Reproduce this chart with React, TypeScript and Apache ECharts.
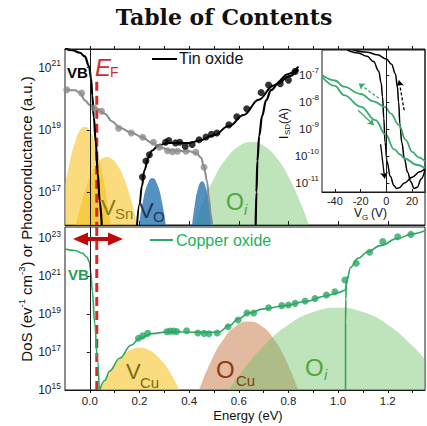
import { useEffect, useRef } from 'react';
import * as echarts from 'echarts';

// Energies in eV, densities / currents stored as log10 values.
const fermiLevel = 0.028;

// ---------- Tin oxide (upper panel) ----------
const tinValenceBand = [[-0.1, 21.62], [-0.07, 21.56], [-0.04, 21.48], [-0.02, 21.36], [-0.003, 21.04], [0.005, 20.65], [0.01, 20.1], [0.016, 19.4], [0.024, 18.6], [0.032, 17.6], [0.04, 16.7], [0.048, 15.94]];
const tinConductionBand = [[0.668, 15.94], [0.671, 17.0], [0.675, 18.0], [0.682, 18.8], [0.694, 19.45], [0.71, 19.95], [0.73, 20.28], [0.76, 20.5], [0.8, 20.72], [0.84, 20.95]];
const tinFit = [[0.19, 15.94], [0.2, 16.6], [0.21, 17.2], [0.22, 17.7], [0.235, 18.1], [0.25, 18.33], [0.28, 18.52], [0.32, 18.58], [0.4, 18.58], [0.44, 18.65], [0.5, 18.83], [0.56, 19.12], [0.62, 19.48], [0.68, 19.97], [0.74, 20.43], [0.8, 20.8], [0.84, 21.03]];
const tinPoints = [[0.212, 17.48], [0.226, 18.0], [0.24, 18.2], [0.305, 18.6], [0.318, 18.66], [0.345, 18.58], [0.362, 18.6], [0.384, 18.47], [0.412, 18.53], [0.44, 18.68], [0.468, 18.77], [0.49, 18.86], [0.512, 18.9], [0.56, 19.16], [0.592, 19.42], [0.632, 19.68], [0.69, 20.2], [0.72, 20.44], [0.767, 20.48], [0.8, 20.6], [0.827, 20.88]];
const photoFit = [[-0.1, 20.3], [-0.06, 20.27], [-0.04, 20.2], [-0.02, 19.95], [0.0, 19.8], [0.03, 19.68], [0.06, 19.52], [0.09, 19.27], [0.12, 19.07], [0.17, 18.9], [0.21, 18.77], [0.25, 18.58], [0.28, 18.45], [0.32, 18.35], [0.4, 18.31], [0.43, 18.25], [0.448, 18.1], [0.46, 17.8], [0.472, 17.35], [0.48, 16.8], [0.487, 16.3], [0.492, 15.94]];
const photoPoints = [[-0.093, 20.29], [-0.033, 20.18], [0.017, 19.7], [0.047, 19.6], [0.116, 19.05], [0.167, 18.9], [0.213, 18.76], [0.256, 18.6], [0.28, 18.44], [0.313, 18.33], [0.333, 18.3], [0.353, 18.31], [0.387, 18.31], [0.427, 18.28], [0.46, 17.8]];
const tinVSnNarrow = [[-0.1, 17.2], [-0.08, 18.0], [-0.06, 18.6], [-0.04, 18.98], [-0.02, 19.1], [0.0, 18.98], [0.02, 18.6], [0.04, 18.0], [0.06, 17.2], [0.075, 16.4], [0.085, 15.94]];
const tinVSnWide = [[-0.056, 15.94], [-0.032, 16.7], [-0.012, 17.22], [0.008, 17.62], [0.028, 17.9], [0.048, 18.07], [0.068, 18.13], [0.088, 18.07], [0.108, 17.9], [0.128, 17.62], [0.148, 17.22], [0.168, 16.7], [0.192, 15.94]];
const tinVOLow = [[0.198, 15.94], [0.212, 16.62], [0.232, 17.24], [0.252, 17.45], [0.272, 17.24], [0.292, 16.62], [0.306, 15.94]];
const tinVOHigh = [[0.412, 15.94], [0.422, 16.55], [0.437, 17.15], [0.452, 17.35], [0.467, 17.15], [0.482, 16.55], [0.492, 15.94]];
const tinOi = [[0.422, 15.94], [0.452, 16.59], [0.502, 17.47], [0.552, 18.1], [0.602, 18.48], [0.652, 18.61], [0.702, 18.48], [0.752, 18.1], [0.802, 17.47], [0.852, 16.59], [0.882, 15.94]];
const fermiUpper = [[fermiLevel, 20.55], [fermiLevel, 15.94]];

// ---------- Copper oxide (lower panel) ----------
const copperValenceBand = [[-0.1, 22.42], [-0.06, 22.34], [-0.03, 22.2], [-0.012, 22.0], [-0.002, 21.75], [0.004, 21.2], [0.01, 20.2], [0.02, 18.5], [0.03, 16.7], [0.038, 15.0]];
const copperFit = [[0.04, 15.0], [0.06, 15.5], [0.08, 16.0], [0.12, 16.67], [0.167, 17.37], [0.2, 17.72], [0.25, 17.97], [0.32, 18.07], [0.44, 18.04], [0.52, 18.04], [0.56, 18.38], [0.6, 18.75], [0.64, 19.05], [0.7, 19.27], [0.78, 19.42], [0.87, 19.66], [0.95, 19.95], [1.0, 20.12], [1.028, 20.25], [1.036, 20.8], [1.05, 21.45], [1.08, 21.93], [1.12, 22.28], [1.17, 22.6], [1.24, 22.98], [1.3, 23.22], [1.35, 23.38]];
const copperConductionBand = [[1.03, 15.0], [1.03, 18.5], [1.031, 19.8], [1.033, 20.5], [1.038, 21.0]];
const copperPoints = [[0.196, 17.72], [0.213, 17.85], [0.233, 17.98], [0.31, 18.07], [0.323, 18.1], [0.337, 18.1], [0.35, 18.08], [0.39, 18.12], [0.435, 18.0], [0.46, 17.98], [0.48, 17.96], [0.513, 18.0], [0.557, 18.33], [0.597, 18.68], [0.633, 19.05], [0.66, 19.05], [0.72, 19.33], [0.773, 19.44], [0.8, 19.47], [0.827, 19.56], [0.867, 19.68], [0.907, 19.82], [0.953, 20.0], [0.987, 20.17], [1.027, 20.79], [1.073, 21.67], [1.127, 22.25], [1.18, 22.81], [1.24, 23.07], [1.293, 23.19]];
const cuVCu = [[0.04, 15], [0.08, 16.0], [0.12, 16.67], [0.16, 17.09], [0.2, 17.23], [0.24, 17.09], [0.28, 16.67], [0.32, 16.0], [0.36, 15]];
const cuOCu = [[0.44, 15], [0.49, 16.57], [0.54, 17.7], [0.59, 18.38], [0.64, 18.6], [0.69, 18.38], [0.74, 17.7], [0.79, 16.57], [0.84, 15]];
const cuOi = [[0.56, 15], [0.6, 15.75], [0.7, 17.31], [0.8, 18.43], [0.9, 19.1], [1.0, 19.33], [1.1, 19.1], [1.2, 18.43], [1.3, 17.31], [1.35, 16.6]];
const fermiLower = [[fermiLevel, 23.58], [fermiLevel, 15.0]];

// ---------- Inset: transfer curves, V_G (V) vs log10 I_SD (A) ----------
const tinSweepA = [[-30.5, -6.07], [-22, -6.18], [-15, -6.3], [-10, -6.5], [-6, -6.85], [-4, -7.3], [-3, -7.8], [-2, -8.6], [-1, -9.5], [0.5, -10.2], [3, -10.75], [6, -11.1], [8, -11.2], [10, -11.17], [14, -11.0], [20, -10.78], [26, -10.58], [30, -10.45]];
const tinSweepB = [[-26, -6.07], [-15, -6.15], [-7, -6.25], [0, -6.4], [4, -6.6], [7, -6.95], [8.5, -7.4], [9.5, -8.0], [10.5, -8.8], [12, -9.5], [14, -10.1], [16.5, -10.6], [19, -10.95], [21.5, -11.2], [24, -11.15], [27, -10.85], [30, -10.5]];
const copperSweepBack = [[-50, -7.0], [-40, -7.2], [-33, -7.43], [-20, -7.7], [-10, -7.97], [-0.6, -8.19], [3.3, -8.42], [9.8, -8.85], [15, -9.4], [20, -9.84], [25, -10.05], [30, -10.2]];
const copperSweepFwd = [[-50, -7.06], [-40, -7.4], [-33, -7.74], [-20, -8.17], [-8.4, -8.67], [-0.6, -9.2], [6, -9.75], [11, -9.95], [14, -10.09], [24, -10.33], [30, -10.45]];
const tinArrowFwd = [[-4.5, -9.56], [-1.3, -10.83]];
const tinArrowBack = [[13.8, -8.3], [9.8, -7.19]];
const copperArrowBack = [[-5.8, -7.86], [-21.5, -7.31]];
const copperArrowFwd = [[-22, -8.3], [-9.8, -8.85]];

// ---------- Ticks ----------
const energyMajor = [0, 0.2, 0.4, 0.6, 0.8, 1.0, 1.2];
const energyAll = [0, 0.1, 0.2, 0.3, 0.4, 0.5, 0.6, 0.7, 0.8, 0.9, 1.0, 1.1, 1.2, 1.3];
const tinDecades = [17, 19, 21];
const copperDecades = [15, 17, 19, 21, 23];
const currentDecades = [-11, -10, -9, -8, -7];
const gateTicks = [-40, -20, 0, 20];

const FONT = "'Liberation Sans', Arial, Helvetica, sans-serif";
const INK = '#1a1a1a';
const YELLOW = 'rgba(246,190,20,0.55)';
const BLUE = 'rgba(40,118,178,0.8)';
const GREEN_FILL = 'rgba(112,192,104,0.45)';
const TAN = 'rgba(196,118,66,0.5)';
const CU_GREEN = '#2ba862';
const RED = '#d42a2a';

// power-of-ten tick labels; the exponent is lifted with bottom padding
const powLabel = (v: number) => `{b|10}{s|${Math.round(v)}}`;
const powRich = (size: number, sup: number) => ({
  b: { fontSize: size, fontFamily: FONT, color: '#222' },
  s: { fontSize: sup, fontFamily: FONT, color: '#222', padding: [0, 0, 9, 0] },
});

const fill = (data: number[][], color: string, xi: number, yi: number) => ({
  type: 'line', xAxisIndex: xi, yAxisIndex: yi, data, smooth: 0.5, symbol: 'none', silent: true,
  lineStyle: { width: 0 }, areaStyle: { color, opacity: 1, origin: 'start' }, z: 1,
});
const curve = (data: number[][], color: string, width: number, xi: number, yi: number) => ({
  type: 'line', xAxisIndex: xi, yAxisIndex: yi, data, smooth: 0.4, smoothMonotone: 'x', symbol: 'none',
  lineStyle: { color, width }, z: 3,
});
const dots = (data: number[][], color: string, xi: number, yi: number) => ({
  type: 'scatter', xAxisIndex: xi, yAxisIndex: yi, data, symbolSize: 7, itemStyle: { color }, z: 4,
});
const arrow = (coords: number[][], color: string, dashed: boolean) => ({
  type: 'lines', coordinateSystem: 'cartesian2d', xAxisIndex: 3, yAxisIndex: 2,
  symbol: ['none', 'arrow'], symbolSize: 6, silent: true, z: 5,
  lineStyle: { color, width: 1.3, type: dashed ? [3, 2] : 'solid', opacity: 1 },
  data: [{ coords }],
});

const txt = (x: number, y: number, text: string, size: number, color: string, extra: any = {}) => ({
  type: 'text', x, y, z: 60, silent: true,
  style: { text, fontSize: size, fill: color, fontFamily: FONT, verticalAlign: 'middle', align: 'left', ...extra },
});
const subscripted = (x: number, y: number, main: string, sub: string, size: number, subSize: number,
  color: string, dx: number, dy: number, mainExtra: any = {}, subExtra: any = {}) => ({
  type: 'group', x, y, z: 60, silent: true,
  children: [txt(0, 0, main, size, color, mainExtra), txt(dx, dy, sub, subSize, color, subExtra)],
});

const option: any = {
  animation: false,
  textStyle: { fontFamily: FONT },
  grid: [
    { left: 65, top: 49, width: 360, height: 176, show: true, borderColor: INK, borderWidth: 1 },
    { left: 65, top: 227, width: 360, height: 163, show: true, borderColor: INK, borderWidth: 1 },
    { left: 322, top: 50, width: 103, height: 142, show: true, borderColor: INK, borderWidth: 1 },
  ],
  xAxis: [
    {
      gridIndex: 0, type: 'value', min: -0.1, max: 1.35, position: 'bottom', z: 5,
      axisLine: { show: true, lineStyle: { color: INK } },
      axisTick: { show: true, inside: true, length: 4, customValues: energyMajor, lineStyle: { color: INK } },
      axisLabel: { show: false }, splitLine: { show: false },
    },
    {
      gridIndex: 0, type: 'value', min: -0.1, max: 1.35, position: 'top', z: 5,
      axisLine: { show: true, lineStyle: { color: INK } },
      axisTick: { show: true, length: 3, customValues: energyAll, lineStyle: { color: INK } },
      axisLabel: { show: false }, splitLine: { show: false },
    },
    {
      gridIndex: 1, type: 'value', min: -0.1, max: 1.35, position: 'bottom', z: 5,
      axisLine: { show: true, lineStyle: { color: INK } },
      axisTick: { show: true, length: 3, customValues: energyAll, lineStyle: { color: INK } },
      axisLabel: { customValues: energyMajor, formatter: (v: number) => v.toFixed(1), fontSize: 11.5, color: '#222', margin: 5 },
      splitLine: { show: false },
    },
    {
      gridIndex: 2, type: 'value', min: -50, max: 30, z: 5,
      axisLine: { show: true, lineStyle: { color: INK } },
      axisTick: { show: true, inside: true, length: 3, customValues: gateTicks, lineStyle: { color: INK } },
      axisLabel: { customValues: gateTicks, fontSize: 11, color: '#222', margin: 3 },
      splitLine: { show: false },
    },
  ],
  yAxis: [
    {
      gridIndex: 0, type: 'value', min: 15.94, max: 21.6, z: 5,
      axisLine: { show: true, lineStyle: { color: INK } },
      axisTick: { show: true, length: 3, customValues: tinDecades, lineStyle: { color: INK } },
      axisLabel: { customValues: tinDecades, formatter: powLabel, rich: powRich(12, 8.5), margin: 4 },
      splitLine: { show: false },
    },
    {
      gridIndex: 1, type: 'value', min: 15, max: 23.58, z: 5,
      axisLine: { show: true, lineStyle: { color: INK } },
      axisTick: { show: true, length: 3, customValues: copperDecades, lineStyle: { color: INK } },
      axisLabel: { customValues: copperDecades, formatter: powLabel, rich: powRich(12, 8.5), margin: 4 },
      splitLine: { show: false },
    },
    {
      gridIndex: 2, type: 'value', min: -11.33, max: -6.07, z: 5,
      axisLine: { show: true, lineStyle: { color: INK } },
      axisTick: { show: true, inside: true, length: 3, customValues: currentDecades, lineStyle: { color: INK } },
      axisLabel: { customValues: currentDecades, formatter: powLabel, rich: powRich(11.5, 8), margin: 3 },
      splitLine: { show: false },
    },
  ],
  series: [
    // upper panel: defect bands
    fill(tinVSnNarrow, YELLOW, 0, 0),
    fill(tinVSnWide, YELLOW, 0, 0),
    fill(tinOi, GREEN_FILL, 0, 0),
    fill(tinVOLow, BLUE, 0, 0),
    fill(tinVOHigh, BLUE, 0, 0),
    { type: 'line', xAxisIndex: 0, yAxisIndex: 0, data: fermiUpper, symbol: 'none', silent: true, z: 2, lineStyle: { color: RED, width: 3, type: [9, 5] } },
    curve(photoFit, '#8c8c8c', 2, 0, 0),
    dots(photoPoints, '#8c8c8c', 0, 0),
    curve(tinFit, '#000', 2, 0, 0),
    dots(tinPoints, '#000', 0, 0),
    curve(tinValenceBand, '#000', 2.2, 0, 0),
    curve(tinConductionBand, '#000', 2.2, 0, 0),
    // lower panel
    fill(cuVCu, YELLOW, 2, 1),
    fill(cuOCu, TAN, 2, 1),
    fill(cuOi, GREEN_FILL, 2, 1),
    { type: 'line', xAxisIndex: 2, yAxisIndex: 1, data: fermiLower, symbol: 'none', silent: true, z: 2, lineStyle: { color: RED, width: 3, type: [9, 5] } },
    curve(copperValenceBand, CU_GREEN, 1.6, 2, 1),
    curve(copperFit, CU_GREEN, 1.6, 2, 1),
    curve(copperConductionBand, CU_GREEN, 1.6, 2, 1),
    dots(copperPoints, CU_GREEN, 2, 1),
    // inset
    curve(tinSweepA, '#000', 1.5, 3, 2),
    curve(tinSweepB, '#000', 1.5, 3, 2),
    curve(copperSweepBack, '#3aaa6e', 1.8, 3, 2),
    curve(copperSweepFwd, '#3aaa6e', 1.8, 3, 2),
    arrow(tinArrowFwd, '#000', false),
    arrow(tinArrowBack, '#000', true),
    arrow(copperArrowBack, '#3aaa6e', true),
    arrow(copperArrowFwd, '#3aaa6e', false),
  ],
  graphic: [
    txt(224, 17, 'Table of Contents', 22, '#111', { fontFamily: "'DejaVu Serif', serif", fontWeight: 'bold', align: 'center' }),
    // legends
    { type: 'line', z: 60, silent: true, shape: { x1: 152, y1: 59, x2: 177, y2: 59 }, style: { stroke: '#000', lineWidth: 2 } },
    txt(179, 58, 'Tin oxide', 16, '#111'),
    { type: 'line', z: 60, silent: true, shape: { x1: 150, y1: 240, x2: 173, y2: 240 }, style: { stroke: CU_GREEN, lineWidth: 2 } },
    txt(176, 240, 'Copper oxide', 16, '#22b05a'),
    // band labels
    txt(67, 72.5, 'VB', 15, '#000', { fontWeight: 'bold' }),
    txt(68, 274, 'VB', 15, '#22a055', { fontWeight: 'bold' }),
    subscripted(95, 67, 'E', 'F', 24, 14, RED, 15, 5, { fontStyle: 'italic' }),
    subscripted(101, 207, 'V', 'Sn', 22, 15, '#8a7a14', 14, 6),
    subscripted(139, 210, 'V', 'O', 22, 15, '#1e3557', 14, 6),
    subscripted(226, 202, 'O', 'i', 23, 15, '#4aaa3a', 18, 7, {}, { fontStyle: 'italic' }),
    subscripted(126, 371, 'V', 'Cu', 22, 15, '#7a6a12', 14, 11),
    subscripted(216, 369, 'O', 'Cu', 24, 15, '#8b3a12', 20, 11),
    subscripted(305, 367, 'O', 'i', 24, 15, '#4aaa3a', 19, 7, {}, { fontStyle: 'italic' }),
    // Fermi level range arrow
    {
      type: 'polygon', z: 60, silent: true,
      shape: { points: [[73, 239], [88, 232.5], [88, 237], [108, 237], [108, 232.5], [123, 239], [108, 245.5], [108, 241], [88, 241], [88, 245.5]] },
      style: { fill: '#c00a0a' },
    },
    // axis titles
    {
      type: 'text', x: 26, y: 219, rotation: Math.PI / 2, z: 60, silent: true,
      style: {
        text: '{n|DoS (ev}{s|-1}{n| cm}{s|-3}{n|) or Photoconductance (a.u.)}',
        align: 'center', verticalAlign: 'middle', fill: '#111', fontFamily: FONT,
        rich: {
          n: { fontSize: 15, fontFamily: FONT, fill: '#111' },
          s: { fontSize: 9.5, fontFamily: FONT, fill: '#111', padding: [0, 0, 9, 0] },
        },
      },
    },
    txt(248, 415, 'Energy (eV)', 13, '#111', { align: 'center' }),
    {
      type: 'group', x: 284, y: 139, rotation: Math.PI / 2, z: 60, silent: true,
      children: [txt(0, 0, 'I', 12, '#111'), txt(4, 3, 'SD', 8, '#111'), txt(15, 0, '(A)', 12, '#111')],
    },
    {
      type: 'group', x: 354, y: 213, z: 60, silent: true,
      children: [txt(0, 0, 'V', 12, '#111'), txt(8, 4, 'G', 8, '#111'), txt(17, 0, '(V)', 12, '#111')],
    },
  ],
};

export default function App() {
  const ref = useRef<HTMLDivElement>(null);
  useEffect(() => {
    const chart = echarts.init(ref.current!, null, { renderer: 'svg' });
    chart.setOption(option);
    return () => chart.dispose();
  }, []);
  return (
    <div
      ref={ref}
      style={{ position: 'fixed', left: 0, top: 0, width: 427, height: 426, background: '#fff' }}
    />
  );
}
